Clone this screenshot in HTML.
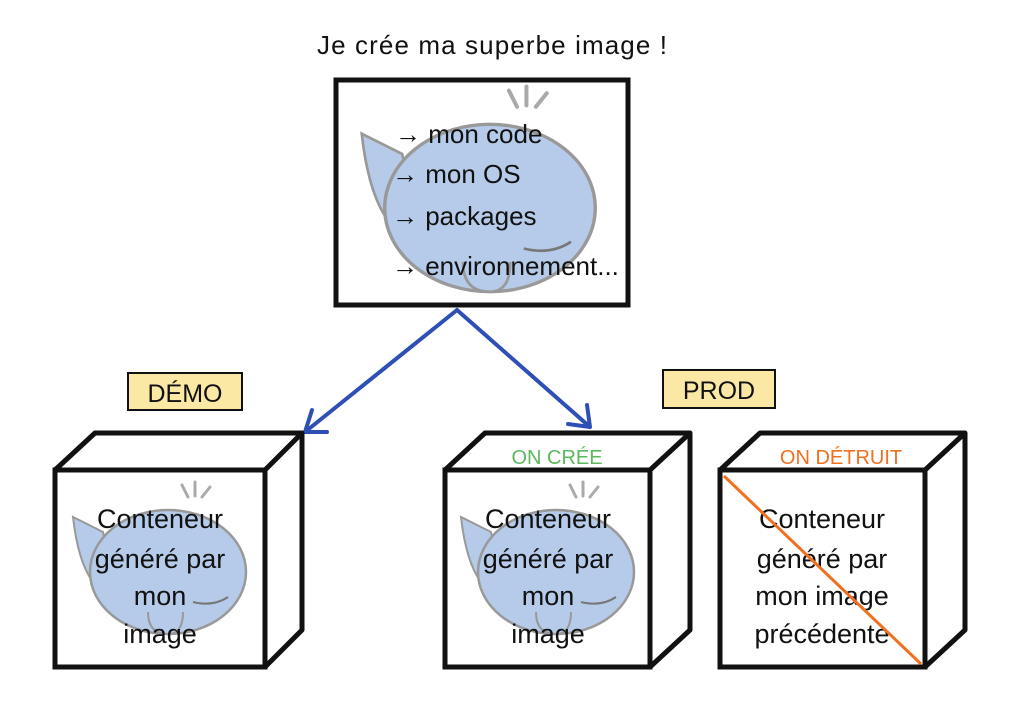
<!DOCTYPE html>
<html><head><meta charset="utf-8"><style>
body{margin:0;background:#fff}
svg text{font-family:"Liberation Sans",sans-serif;fill:#111}
</style></head><body>
<svg width="1024" height="717" viewBox="0 0 1024 717" xmlns="http://www.w3.org/2000/svg">
<defs>
<g id="whale">
 <path d="M-65,-40 L-95,-55 Q-90,-10 -75,10 Q-65,25 -50,30 Z" fill="#b6cbea" stroke="#999" stroke-width="2"/>
 <ellipse cx="0" cy="0" rx="78" ry="62" fill="#b6cbea" stroke="#999" stroke-width="2.5"/>
 <path d="M25,30 Q45,35 60,25" fill="none" stroke="#777" stroke-width="2"/>
 <path d="M-20,40 Q-20,62 0,62 Q15,62 15,40" fill="#b6cbea" stroke="#999" stroke-width="2"/>
 <path d="M20,-75 l-6,-12 M27,-76 l0,-14 M34,-75 l8,-10" stroke="#aaa" stroke-width="3" stroke-linecap="round"/>
</g>
</defs>
<text x="492" y="54" font-size="26" text-anchor="middle" textLength="350">Je crée ma superbe image !</text>
<g transform="translate(490,208) scale(1.35)"><use href="#whale"/></g>
<rect x="336" y="80" width="292" height="225" fill="none" stroke="#111" stroke-width="5"/>
<g font-size="26">
<text x="395" y="143">→ mon code</text>
<text x="392" y="183">→ mon OS</text>
<text x="392" y="225">→ packages</text>
<text x="392" y="275">→ environnement...</text>
</g>
<g stroke="#2e4fb5" stroke-width="4" fill="none" stroke-linecap="round">
<path d="M457,310 L305,432 M305,432 L312,410 M305,432 L327,432"/>
<path d="M457,310 L590,427 M590,427 L587,405 M590,427 L568,424"/>
</g>
<rect x="128" y="373" width="114" height="37" fill="#fbe8a4" stroke="#111" stroke-width="2"/>
<text x="185" y="402" font-size="25" text-anchor="middle">DÉMO</text>
<rect x="663" y="370" width="112" height="38" fill="#fbe8a4" stroke="#111" stroke-width="2"/>
<text x="719" y="399" font-size="25" text-anchor="middle">PROD</text>
<g stroke="#111" stroke-width="5" fill="none" stroke-linejoin="round">
<path d="M55,470 L95,433 L302,433 L265,470 M302,433 L302,630 L265,667"/>
<path d="M445,470 L485,433 L690,433 L650,470 M690,433 L690,630 L650,667"/>
<path d="M720,470 L760,433 L965,433 L925,470 M965,433 L965,630 L925,667"/>
</g>
<g transform="translate(168,572)"><use href="#whale"/></g>
<g transform="translate(556,572)"><use href="#whale"/></g>
<g stroke="#111" stroke-width="5" fill="none">
<rect x="55" y="470" width="210" height="197"/>
<rect x="445" y="470" width="205" height="197"/>
<rect x="720" y="470" width="205" height="197"/>
</g>
<text x="557" y="464" font-size="20" text-anchor="middle" style="fill:#5cb85c">ON CRÉE</text>
<text x="841" y="464" font-size="20" text-anchor="middle" style="fill:#f07020">ON DÉTRUIT</text>
<g font-size="27" text-anchor="middle">
<text x="160" y="528">Conteneur</text><text x="160" y="568">généré par</text><text x="160" y="605">mon</text><text x="160" y="643">image</text>
<text x="548" y="528">Conteneur</text><text x="548" y="568">généré par</text><text x="548" y="605">mon</text><text x="548" y="643">image</text>
<text x="822" y="528">Conteneur</text><text x="822" y="568">généré par</text><text x="822" y="605">mon image</text><text x="822" y="643">précédente</text>
</g>
<line x1="724" y1="476" x2="921" y2="664" stroke="#f07020" stroke-width="3"/>
</svg>
</body></html>
